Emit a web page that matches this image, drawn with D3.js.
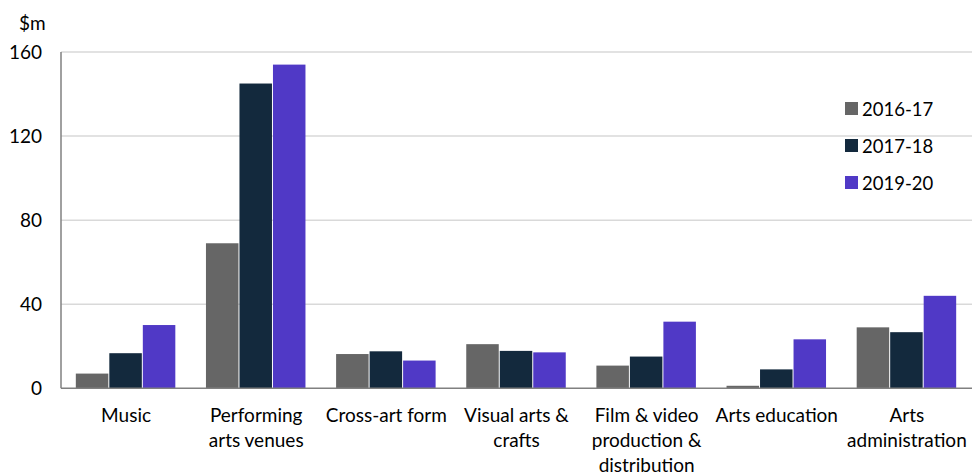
<!DOCTYPE html>
<html><head><meta charset="utf-8">
<script src="https://cdn.jsdelivr.net/npm/d3@7"></script>
<style>body{margin:0;background:#fff}svg{display:block}text{font-family:Lato,"Open Sans",sans-serif;fill:#000}</style>
</head><body>
<svg id="c" width="972" height="476"></svg>
<script>
const categories = [["Music"],["Performing","arts venues"],["Cross-art form"],["Visual arts &","crafts"],["Film & video","production &","distribution"],["Arts education"],["Arts","administration"]];
const seriesNames = ["2016-17","2017-18","2019-20"];
const s2016 = [7, 69, 16.3, 21, 10.8, 1.2, 29];
const s2017 = [16.7, 145, 17.6, 17.8, 15.1, 9, 26.7];
const s2019 = [30.1, 154, 13.2, 17.1, 31.7, 23.3, 44];
const yTicks = [0, 40, 80, 120, 160];
const colors = ["#666666", "#13293D", "#5039C6"];

const svg = d3.select("#c");
const m = {l: 61, r: 972, t: 52, b: 388.3};
const x = d3.scaleBand().domain(d3.range(categories.length)).range([m.l, m.r]).paddingInner(0).paddingOuter(0);
const y = d3.scaleLinear().domain([0,160]).range([m.b, m.t]);
const series = [s2016, s2017, s2019];
const bw = 33.5;
const x1 = d3.scaleBand().domain(d3.range(3)).range([0, bw*3]);
const fs = 19;

// gridlines
svg.append("g").selectAll("line").data(yTicks.filter(d=>d>0)).join("line")
  .attr("x1", m.l).attr("x2", m.r).attr("y1", d=>y(d)).attr("y2", d=>y(d))
  .attr("stroke", "#d9d9d9").attr("stroke-width", 1.5);

// bars
const groups = svg.append("g").selectAll("g").data(series).join("g").attr("fill", (d,i)=>colors[i]);
groups.each(function(vals, si){
  d3.select(this).selectAll("rect").data(vals).join("rect")
    .attr("x", (d,i)=> x(i) + (x.bandwidth()-bw*3)/2 + x1(si))
    .attr("width", x1.bandwidth()-1)
    .attr("y", d=>y(d)).attr("height", d=>y(0)-y(d));
});

// axes lines
svg.append("line").attr("x1", m.l).attr("x2", m.l).attr("y1", m.t).attr("y2", m.b).attr("stroke","#808080").attr("stroke-width",1.5);
svg.append("line").attr("x1", m.l).attr("x2", m.r).attr("y1", m.b).attr("y2", m.b).attr("stroke","#808080").attr("stroke-width",1.5);

// y tick labels
svg.append("g").selectAll("text").data(yTicks).join("text")
  .attr("x", 42).attr("y", d=>y(d)+7).attr("text-anchor","end").attr("font-size",fs).text(d=>d);
svg.append("text").attr("x", 19).attr("y", 30).attr("font-size",fs).text("$m");

// category labels
const cl = svg.append("g").selectAll("text").data(categories).join("text")
  .attr("x", (d,i)=>x(i)+x.bandwidth()/2).attr("y", 422).attr("text-anchor","middle").attr("font-size",fs);
cl.selectAll("tspan").data(d=>d).join("tspan")
  .attr("x", function(){return this.parentNode.getAttribute("x");})
  .attr("dy", (d,i)=> i===0 ? 0 : 25).text(d=>d);

// legend
const lg = svg.append("g").selectAll("g").data(seriesNames).join("g")
  .attr("transform", (d,i)=>`translate(845,${102 + i*37})`);
lg.append("rect").attr("width", 13).attr("height", 13).attr("fill", (d,i)=>colors[i]);
lg.append("text").attr("x", 17).attr("y", 14).attr("font-size", 18.5).text(d=>d);
</script>
</body></html>
